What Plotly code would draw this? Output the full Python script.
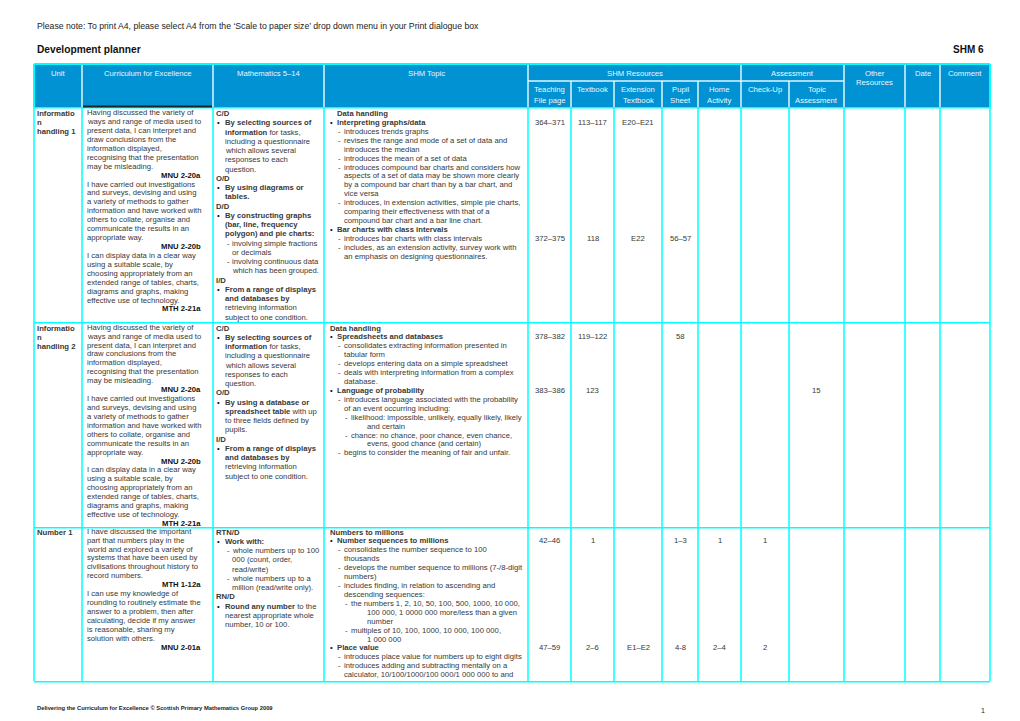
import plotly.graph_objects as go

# page texts
page_note = "Please note: To print A4, please select A4 from the \u2018Scale to paper size\u2019 drop down menu in your Print dialogue box"
page_title = "Development planner"
page_level = "SHM 6"
footer_text = "Delivering the Curriculum for Excellence \u00a9 Scottish Primary Mathematics Group 2009"
page_number = "1"

# header labels
main_headers = ["Unit", "Curriculum for Excellence", "Mathematics 5\u201314", "SHM Topic"]
resource_group = "SHM Resources"
resource_headers = [["Teaching", "File page"], ["Textbook"], ["Extension", "Textbook"],
                    ["Pupil", "Sheet"], ["Home", "Activity"]]
assessment_group = "Assessment"
assessment_headers = [["Check-Up"], ["Topic", "Assessment"]]
tail_headers = [["Other", "Resources"], ["Date"], ["Comment"]]

# unit names
units = [
    ["Informatio", "n", "handling 1"],
    ["Informatio", "n", "handling 2"],
    ["Number 1"],
]

# curriculum for excellence outcomes  ("=" marks a right aligned code)
cfe_info = [
    "Having discussed the variety of",
    "ways and range of media used to",
    "present data, I can interpret and",
    "draw conclusions from the",
    "information displayed,",
    "recognising that the presentation",
    "may be misleading.",
    "=MNU 2-20a",
    "I have carried out investigations",
    "and surveys, devising and using",
    "a variety of methods to gather",
    "information and have worked with",
    "others to collate, organise and",
    "communicate the results in an",
    "appropriate way.",
    "=MNU 2-20b",
    "I can display data in a clear way",
    "using a suitable scale, by",
    "choosing appropriately from an",
    "extended range of tables, charts,",
    "diagrams and graphs, making",
    "effective use of technology.",
    "=MTH 2-21a",
]
cfe_number = [
    "I have discussed the important",
    "part that numbers play in the",
    "world and explored a variety of",
    "systems that have been used by",
    "civilisations throughout history to",
    "record numbers.",
    "=MTH 1-12a",
    "I can use my knowledge of",
    "rounding to routinely estimate the",
    "answer to a problem, then after",
    "calculating, decide if my answer",
    "is reasonable, sharing my",
    "solution with others.",
    "=MNU 2-01a",
]
curriculum = [cfe_info, cfe_info, cfe_number]

# mathematics 5-14  ("* " bullet, "> " follow-on, "- " dash, ">> " dash follow-on)
math_info1 = [
    "<b>C/D</b>",
    "* <b>By selecting sources of</b>",
    "> <b>information</b> for tasks,",
    "> including a questionnaire",
    "> which allows several",
    "> responses to each",
    "> question.",
    "<b>O/D</b>",
    "* <b>By using diagrams or</b>",
    "> <b>tables.</b>",
    "<b>D/D</b>",
    "* <b>By constructing graphs</b>",
    "> <b>(bar, line, frequency</b>",
    "> <b>polygon) and pie charts:</b>",
    "- involving simple fractions",
    ">> or decimals",
    "- involving continuous data",
    ">> which has been grouped.",
    "<b>I/D</b>",
    "* <b>From a range of displays</b>",
    "> <b>and databases by</b>",
    "> retrieving information",
    "> subject to one condition.",
]
math_info2 = [
    "<b>C/D</b>",
    "* <b>By selecting sources of</b>",
    "> <b>information</b> for tasks,",
    "> including a questionnaire",
    "> which allows several",
    "> responses to each",
    "> question.",
    "<b>O/D</b>",
    "* <b>By using a database or</b>",
    "> <b>spreadsheet table</b> with up",
    "> to three fields defined by",
    "> pupils.",
    "<b>I/D</b>",
    "* <b>From a range of displays</b>",
    "> <b>and databases by</b>",
    "> retrieving information",
    "> subject to one condition.",
]
math_number1 = [
    "<b>RTN/D</b>",
    "* <b>Work with:</b>",
    "- whole numbers up to 100",
    ">> 000 (count, order,",
    ">> read/write)",
    "- whole numbers up to a",
    ">> million (read/write only).",
    "<b>RN/D</b>",
    "* <b>Round any number</b> to the",
    "> nearest appropriate whole",
    "> number, 10 or 100.",
]
maths = [math_info1, math_info2, math_number1]

# SHM topic
topic_info1 = [
    "> <b>Data handling</b>",
    "* <b>Interpreting graphs/data</b>",
    "- introduces trends graphs",
    "- revises the range and mode of a set of data and",
    ">> introduces the median",
    "- introduces the mean of a set of data",
    "- introduces compound bar charts and considers how",
    ">> aspects of a set of data may be shown more clearly",
    ">> by a compound bar chart than by a bar chart, and",
    ">> vice versa",
    "- introduces, in extension activities, simple pie charts,",
    ">> comparing their effectiveness with that of a",
    ">> compound bar chart and a bar line chart.",
    "* <b>Bar charts with class intervals</b>",
    "- introduces bar charts with class intervals",
    "- includes, as an extension activity, survey work with",
    ">> an emphasis on designing questionnaires.",
]
topic_info2 = [
    "<b>Data handling</b>",
    "* <b>Spreadsheets and databases</b>",
    "- consolidates extracting information presented in",
    ">> tabular form",
    "- develops entering data on a simple spreadsheet",
    "- deals with interpreting information from a complex",
    ">> database.",
    "* <b>Language of probability</b>",
    "- introduces language associated with the probability",
    ">> of an event occurring including:",
    "-- likelihood: impossible, unlikely, equally likely, likely",
    ">>>> and certain",
    "-- chance: no chance, poor chance, even chance,",
    ">>>> evens, good chance (and certain)",
    "- begins to consider the meaning of fair and unfair.",
]
topic_number1 = [
    "<b>Numbers to millions</b>",
    "* <b>Number sequences to millions</b>",
    "- consolidates the number sequence to 100",
    ">> thousands",
    "- develops the number sequence to millions (7-/8-digit",
    ">> numbers)",
    "- includes finding, in relation to ascending and",
    ">> descending sequences:",
    "-- the numbers 1, 2, 10, 50, 100, 500, 1000, 10 000,",
    ">>>> 100 000, 1 0000 000 more/less than a given",
    ">>>> number",
    "-- multiples of 10, 100, 1000, 10 000, 100 000,",
    ">>>> 1 000 000",
    "* <b>Place value</b>",
    "- introduces place value for numbers up to eight digits",
    "- introduces adding and subtracting mentally on a",
    ">> calculator, 10/100/1000/100 000/1 000 000 to and",
]
topics = [topic_info1, topic_info2, topic_number1]

# resources: (topic line, [teaching, textbook, extension, pupil, home, check-up, topic assessment])
resources = [
    [(1, ["364\u2013371", "113\u2013117", "E20\u2013E21", "", "", "", ""]),
     (14, ["372\u2013375", "118", "E22", "56\u201357", "", "", ""])],
    [(1, ["378\u2013382", "119\u2013122", "", "58", "", "", ""]),
     (7, ["383\u2013386", "123", "", "", "", "", "15"])],
    [(1, ["42\u201346", "1", "", "1\u20133", "1", "1", ""]),
     (13, ["47\u201359", "2\u20136", "E1\u2013E2", "4-8", "2\u20134", "2", ""])],
]

# ---- layout ----
FONT = "Liberation Sans, Arial, sans-serif"
FS = 7.7
BODY = "#383838"
HEAD_BG = "#0092d2"
HEAD_TXT = "#eef6fb"
CYAN = "#00ffff"
SEP = "#e2f4fa"

cols = [34, 82, 213, 324, 528, 571, 614, 662, 698, 741, 789, 844, 905, 940, 990]
rows = [107, 322, 527, 681]
head_top, head_mid = 64, 81
first_line = [113.5, 328.0, 532.0]

ann = []
shapes = []


def txt(x, y, s, size=FS, anchor="left", color=BODY):
    ann.append(dict(x=x, y=y, xref="x", yref="y", text=s, showarrow=False,
                    xanchor=anchor, yanchor="middle", borderpad=0, borderwidth=0,
                    font=dict(family=FONT, size=size, color=color)))


def line(x0, y0, x1, y1, color=CYAN, width=1.5):
    shapes.append(dict(type="line", xref="x", yref="y", x0=x0, y0=y0, x1=x1, y1=y1,
                       line=dict(color=color, width=width)))


def draw_cell(lines, lv, y0, lh, right_x=None):
    for i, s in enumerate(lines):
        y = y0 + i * lh
        if s.startswith("="):
            txt(right_x, y, "<b>" + s[1:] + "</b>", anchor="right", color="#111")
        elif s.startswith("-- "):
            txt(lv["d2"], y, "-")
            txt(lv["L3"], y, s[3:])
        elif s.startswith("- "):
            txt(lv["d1"], y, "-")
            txt(lv["L2"], y, s[2:])
        elif s.startswith("* "):
            txt(lv["b"], y, "\u2022", color="#111")
            txt(lv["L1"], y, s[2:])
        elif s.startswith(">>>> "):
            txt(lv["L4"], y, s[5:])
        elif s.startswith(">> "):
            txt(lv["L2"], y, s[3:])
        elif s.startswith("> "):
            txt(lv["L1"], y, s[2:])
        else:
            txt(lv["L0"], y, s)


# page header / footer
txt(37, 26, page_note, size=8.7, color="#222")
txt(37, 49, "<b>" + page_title + "</b>", size=10.2, color="#111")
txt(983.5, 49, "<b>" + page_level + "</b>", size=10, anchor="right", color="#111")
txt(37, 708, "<b>" + footer_text + "</b>", size=5.8, color="#222")
txt(985, 710, page_number, size=7, anchor="right", color="#222")

# table header
shapes.append(dict(type="rect", xref="x", yref="y", x0=cols[0], x1=cols[-1], y0=head_top, y1=rows[0],
                   fillcolor=HEAD_BG, line=dict(width=0), layer="below"))
for i, h in enumerate(main_headers):
    txt((cols[i] + cols[i + 1]) / 2, 73, h, anchor="center", color=HEAD_TXT)
txt((cols[4] + cols[9]) / 2, 73, resource_group, anchor="center", color=HEAD_TXT)
txt((cols[9] + cols[11]) / 2, 73, assessment_group, anchor="center", color=HEAD_TXT)
for j, h in enumerate(resource_headers + assessment_headers):
    for k, part in enumerate(h):
        txt((cols[4 + j] + cols[5 + j]) / 2, 89 + k * 11, part, anchor="center", color=HEAD_TXT)
for j, h in enumerate(tail_headers):
    for k, part in enumerate(h):
        txt((cols[11 + j] + cols[12 + j]) / 2, 73 + k * 9, part, anchor="center", color=HEAD_TXT)

for i in [1, 2, 3, 4, 9, 11, 12, 13]:
    line(cols[i], head_top, cols[i], rows[0], color=SEP)
for i in [5, 6, 7, 8, 10]:
    line(cols[i], head_mid, cols[i], rows[0], color=SEP)
line(cols[4], head_mid, cols[11], head_mid, color=SEP)
line(cols[0], head_top, cols[-1], head_top, width=2)
line(cols[0], head_top, cols[0], rows[0], width=2)
line(cols[-1], head_top, cols[-1], rows[0], width=2)

# body grid
for x in cols:
    line(x, rows[0], x, rows[-1])
for y in rows:
    line(cols[0], y + 0.8, cols[-1], y + 0.8)
line(cols[1] + 1, rows[0] - 0.5, cols[2] - 1, rows[0] - 0.5, color="#222", width=2)

# body text
unit_lv = {"L0": 37}
cfe_lv = {"L0": 87}
math_lv = {"L0": 215.5, "b": 217, "L1": 225, "d1": 227, "L2": 232}
topic_lv = {"L0": 330, "b": 330, "L1": 337, "d1": 337.5, "L2": 344, "d2": 345, "L3": 351, "L4": 367}
LH_UNIT, LH_CFE, LH_MATH, LH_TOPIC = 9.0, 8.92, 9.25, 8.92

for r in range(3):
    y0 = first_line[r]
    draw_cell(["<b>" + u + "</b>" for u in units[r]], unit_lv, y0, LH_UNIT)
    draw_cell(curriculum[r], cfe_lv, y0 - 0.8, LH_CFE, right_x=201)
    draw_cell(maths[r], math_lv, y0, LH_MATH)
    draw_cell(topics[r], topic_lv, y0, LH_TOPIC)
    for ln, vals in resources[r]:
        for j, v in enumerate(vals):
            if v:
                txt((cols[4 + j] + cols[5 + j]) / 2, y0 + ln * LH_TOPIC, v, anchor="center")

fig = go.Figure()
fig.update_layout(
    width=1020, height=721,
    margin=dict(l=0, r=0, t=0, b=0),
    paper_bgcolor="white", plot_bgcolor="white",
    xaxis=dict(range=[0, 1020], visible=False, fixedrange=True),
    yaxis=dict(range=[721, 0], visible=False, fixedrange=True),
    shapes=shapes, annotations=ann,
    showlegend=False,
)

fig.write_html("out.html", config={"displayModeBar": False},
               post_script="document.body.style.margin='0';")
